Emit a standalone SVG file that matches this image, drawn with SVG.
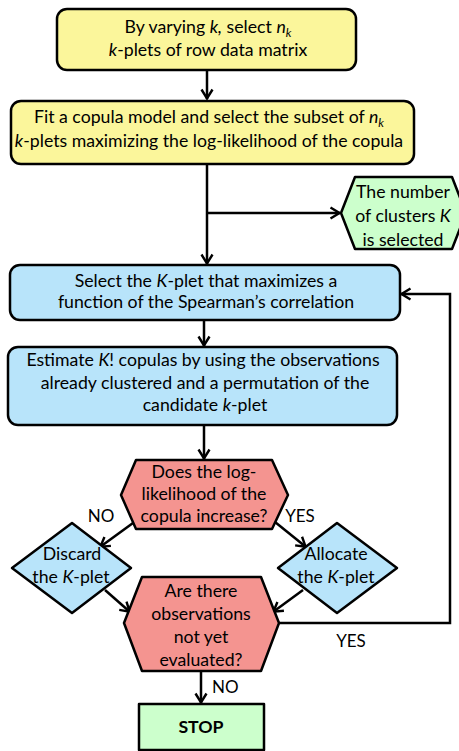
<svg xmlns="http://www.w3.org/2000/svg" width="459" height="751" viewBox="0 0 459 751">
<defs>
<style>
.t{font-family:Lato,"Liberation Sans",sans-serif;font-size:17.7px;fill:#000;text-anchor:middle}
.i{font-style:italic}
.lbl{font-family:Lato,"Liberation Sans",sans-serif;font-size:17px;fill:#000}
.sh{stroke:#000;stroke-width:2.5;stroke-linejoin:round}
.y{fill:#FBF69B}
.b{fill:#B8E4FA}
.r{fill:#F49490}
.g{fill:#CCFFCC}
.c{fill:none;stroke:#000;stroke-width:2.5}
</style>
<marker id="ah" viewBox="0 0 12 14" refX="11" refY="7" markerWidth="12" markerHeight="14" orient="auto" markerUnits="userSpaceOnUse">
<path d="M1.5,1.5 L10.5,7 L1.5,12.5" fill="none" stroke="#000" stroke-width="2.4"/>
</marker>
</defs>

<g id="connectors">
<path class="c" d="M207,70 V99" marker-end="url(#ah)"/>
<path class="c" d="M207,164 V264" marker-end="url(#ah)"/>
<path class="c" d="M207,213 H340" marker-end="url(#ah)"/>
<path class="c" d="M204,320 V346" marker-end="url(#ah)"/>
<path class="c" d="M204,425 V459" marker-end="url(#ah)"/>
<path class="c" d="M133,523 L100,547" marker-end="url(#ah)"/>
<path class="c" d="M275,522 L306,547" marker-end="url(#ah)"/>
<path class="c" d="M105,590 L130,612" marker-end="url(#ah)"/>
<path class="c" d="M303,590 L273,612" marker-end="url(#ah)"/>
<path class="c" d="M279,623 H450 V294 H401" marker-end="url(#ah)"/>
<path class="c" d="M201,671 V703" marker-end="url(#ah)"/>
<text class="lbl" x="101" y="522" text-anchor="middle">NO</text>
<text class="lbl" x="300" y="522" text-anchor="middle">YES</text>
<text class="lbl" x="351" y="647" text-anchor="middle">YES</text>
<text class="lbl" x="212" y="693">NO</text>
</g>

<g id="n1">
<rect class="sh y" x="57" y="9" width="299" height="61" rx="10"/>
<text class="t" x="208" y="33">By varying <tspan class="i">k,</tspan> select <tspan class="i">n</tspan><tspan class="i" font-size="12" dy="4">k</tspan></text>
<text class="t" x="208" y="56"><tspan class="i">k</tspan>-plets of row data matrix</text>
</g>

<g id="n2">
<rect class="sh y" x="11" y="101" width="403" height="63" rx="10"/>
<text class="t" x="209" y="123">Fit a copula model and select the subset of <tspan class="i">n</tspan><tspan class="i" font-size="12" dy="4">k</tspan></text>
<text class="t" x="209" y="147"><tspan class="i">k</tspan>-plets maximizing the log-likelihood of the copula</text>
</g>

<g id="n3">
<polygon class="sh g" points="341,213 355,177 452,177 466,213 452,249 355,249"/>
<text class="t" x="403" y="198">The number</text>
<text class="t" x="403" y="222">of clusters <tspan class="i">K</tspan></text>
<text class="t" x="403" y="246">is selected</text>
</g>

<g id="n4">
<rect class="sh b" x="10" y="265" width="390" height="55" rx="10"/>
<text class="t" x="206" y="287">Select the <tspan class="i">K</tspan>-plet that maximizes a</text>
<text class="t" x="206" y="308">function of the Spearman’s correlation</text>
</g>

<g id="n5">
<rect class="sh b" x="8" y="347" width="389" height="78" rx="10"/>
<text class="t" x="203" y="366">Estimate <tspan class="i">K</tspan>! copulas by using the observations</text>
<text class="t" x="205" y="389">already clustered and a permutation of the</text>
<text class="t" x="205" y="411">candidate <tspan class="i">k</tspan>-plet</text>
</g>

<g id="n6">
<polygon class="sh r" points="121,495 136,460 272,460 288,495 272,529 136,529"/>
<text class="t" x="204" y="478">Does the log-</text>
<text class="t" x="204" y="500">likelihood of the</text>
<text class="t" x="204" y="522">copula increase?</text>
</g>

<g id="n7">
<polygon class="sh b" points="72,523 131,568 72,613 12,568"/>
<text class="t" x="72" y="560">Discard</text>
<text class="t" x="71" y="583">the <tspan class="i">K</tspan>-plet</text>
</g>

<g id="n8">
<polygon class="sh b" points="337,523 397,568 337,613 278,568"/>
<text class="t" x="336" y="560">Allocate</text>
<text class="t" x="336" y="583">the <tspan class="i">K</tspan>-plet</text>
</g>

<g id="n9">
<polygon class="sh r" points="124,623 142,577 261,577 279,623 261,671 142,671"/>
<text class="t" x="201" y="597">Are there</text>
<text class="t" x="201" y="620">observations</text>
<text class="t" x="201" y="643">not yet</text>
<text class="t" x="201" y="666">evaluated?</text>
</g>

<g id="n10">
<rect class="sh g" x="139" y="704" width="125" height="46"/>
<text class="t" x="201" y="733" font-weight="bold">STOP</text>
</g>
</svg>
